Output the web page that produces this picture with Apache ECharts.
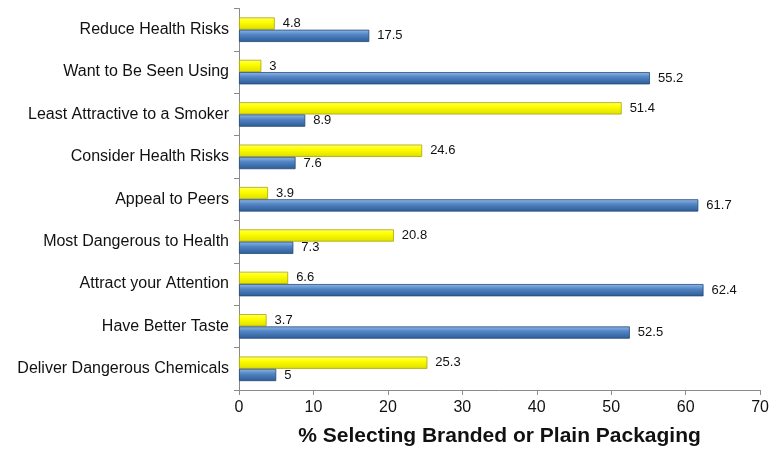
<!DOCTYPE html>
<html>
<head>
<meta charset="utf-8">
<script src="https://cdn.jsdelivr.net/npm/echarts@6/dist/echarts.min.js"></script>
<style>html,body{margin:0;padding:0;background:#fff}#c{width:772px;height:452px}</style>
</head>
<body>
<div id="c"></div>
<script>
var categories = ["Reduce Health Risks","Want to Be Seen Using","Least Attractive to a Smoker","Consider Health Risks","Appeal to Peers","Most Dangerous to Health","Attract your Attention","Have Better Taste","Deliver Dangerous Chemicals"];
var yellowValues = [4.8, 3, 51.4, 24.6, 3.9, 20.8, 6.6, 3.7, 25.3];
var blueValues = [17.5, 55.2, 8.9, 7.6, 61.7, 7.3, 62.4, 52.5, 5];
var xTicks = [0, 10, 20, 30, 40, 50, 60, 70];
var axisTitle = "% Selecting Branded or Plain Packaging";

var font = "'Liberation Sans', Arial, Helvetica, sans-serif";
var chart = echarts.init(document.getElementById('c'), null, {renderer: 'canvas'});
function grad(stops){ return new echarts.graphic.LinearGradient(0,0,0,1,stops); }
var lbl = {show:true, position:'right', distance:8, color:'#111', fontSize:13, fontFamily:font};
chart.setOption({
  animation:false,
  grid:{left:239, right:8, top:8.5, bottom:58, containLabel:false},
  xAxis:{type:'value', min:xTicks[0], max:xTicks[xTicks.length-1], interval:10,
    splitLine:{show:false},
    axisLine:{show:true, lineStyle:{color:'#8a8a8a'}},
    axisTick:{show:true, length:5, lineStyle:{color:'#8a8a8a'}},
    axisLabel:{color:'#111', fontSize:16, fontFamily:font, margin:10},
    name:axisTitle, nameLocation:'middle', nameGap:36,
    nameTextStyle:{fontSize:21, fontWeight:'bold', color:'#111', fontFamily:font}},
  yAxis:{type:'category', data:categories, inverse:true,
    axisLine:{show:true, lineStyle:{color:'#8a8a8a'}},
    axisTick:{show:true, length:5, lineStyle:{color:'#8a8a8a'}},
    axisLabel:{color:'#111', fontSize:16, fontFamily:font, margin:10, padding:[3,0,0,0]}},
  series:[
    {type:'bar', name:'Plain', data:yellowValues, barGap:'0%', barCategoryGap:'42%',
     itemStyle:{color:grad([{offset:0,color:'#ffff70'},{offset:0.35,color:'#ffff00'},{offset:1,color:'#dede00'}]), borderColor:'#aaa600', borderWidth:0.8},
     label:lbl},
    {type:'bar', name:'Branded', data:blueValues, barGap:'0%', barCategoryGap:'42%',
     itemStyle:{color:grad([{offset:0,color:'#92b8e6'},{offset:0.4,color:'#5285c4'},{offset:1,color:'#2d5b94'}]), borderColor:'#234a7a', borderWidth:0.8},
     label:lbl}
  ]
});
</script>
</body>
</html>
